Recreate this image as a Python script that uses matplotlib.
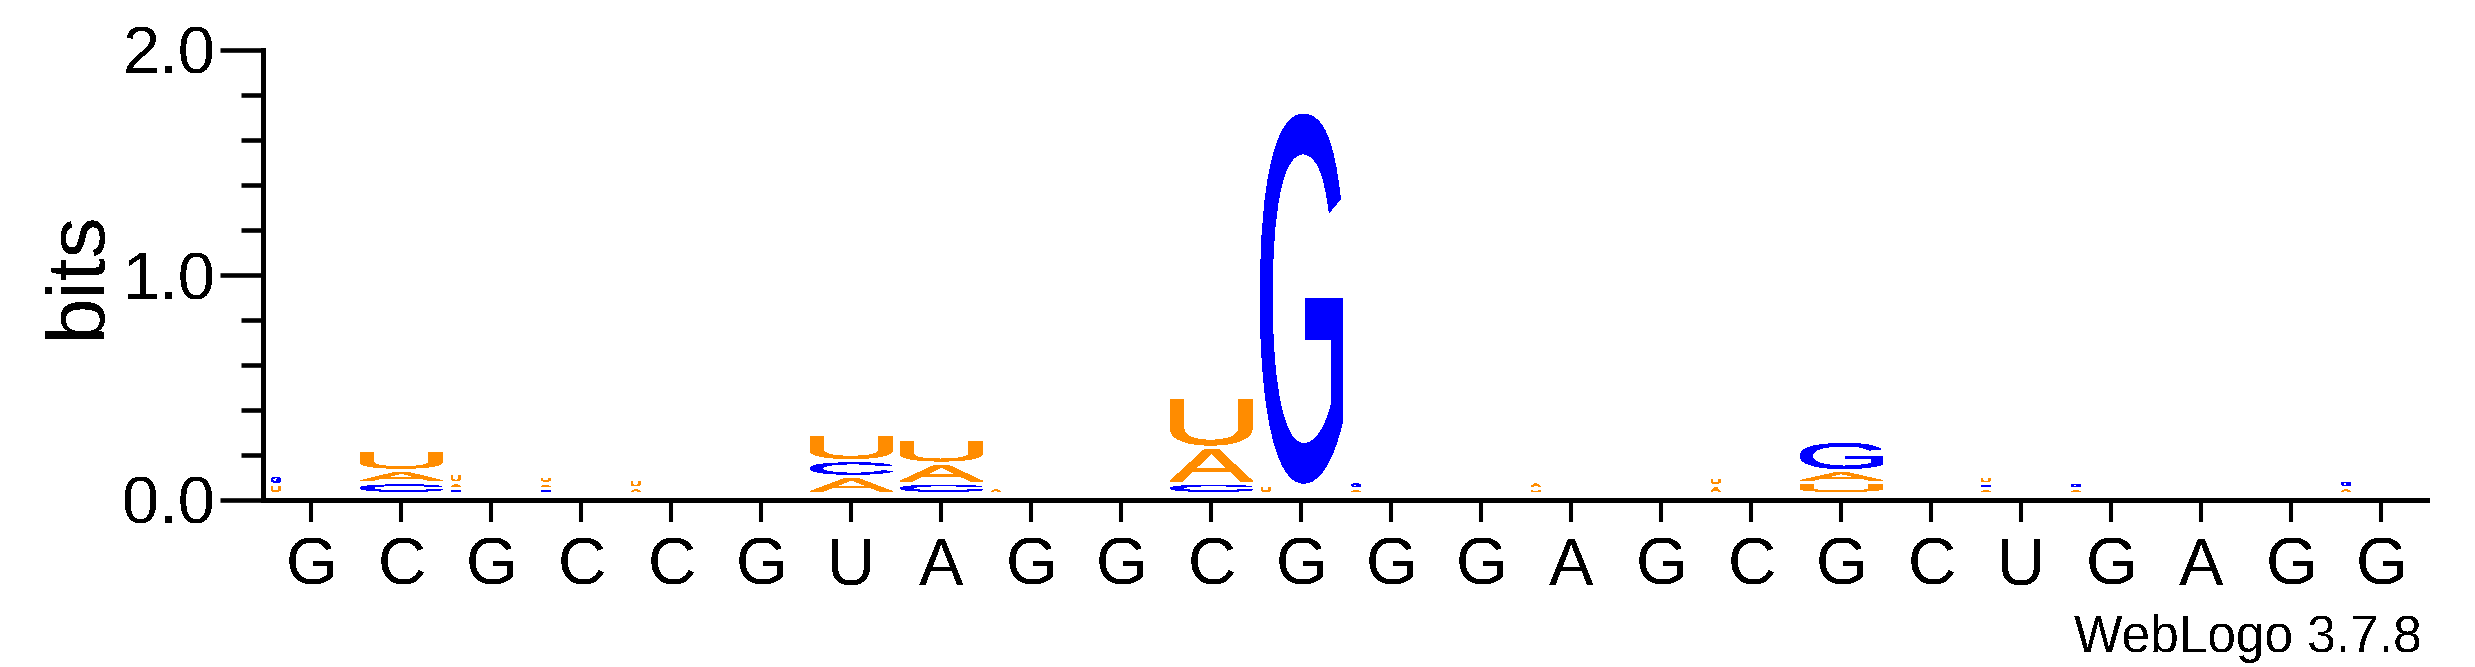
import matplotlib
matplotlib.use('Agg')
import matplotlib.pyplot as plt
from matplotlib.textpath import TextPath
from matplotlib.font_manager import FontProperties
from matplotlib.patches import PathPatch
from matplotlib.transforms import Affine2D
from matplotlib.ticker import MultipleLocator, FixedLocator

plt.rcParams['font.family'] = ['Liberation Sans', 'DejaVu Sans']
plt.rcParams['text.antialiased'] = False

# ---------------- data ----------------
sequence = list("GCGCCGUAGGCGGGAGCGCUGAGG")

# letters of each stack, bottom to top
stack_letters = [
    ['U', 'G'],            # 1
    ['C', 'A', 'U'],       # 2
    ['G', 'A', 'U'],       # 3
    ['C', 'A', 'U'],       # 4
    ['A', 'U'],            # 5
    [],                    # 6
    ['A', 'C', 'U'],       # 7
    ['C', 'A', 'U'],       # 8
    ['A'],                 # 9
    [],                    # 10
    ['C', 'A', 'U'],       # 11
    ['U', 'G'],            # 12
    ['A', 'G'],            # 13
    [],                    # 14
    ['U', 'A'],            # 15
    [],                    # 16
    ['A', 'U'],            # 17
    ['U', 'A', 'G'],       # 18
    [],                    # 19
    ['A', 'C', 'U'],       # 20
    ['A', 'G'],            # 21
    [],                    # 22
    [],                    # 23
    ['A', 'G'],            # 24
]

# height (bits) of each letter, bottom to top
stack_bits = [
    [0.040, 0.041],
    [0.048, 0.055, 0.089],
    [0.022, 0.026, 0.040],
    [0.022, 0.024, 0.028],
    [0.026, 0.036],
    [],
    [0.076, 0.070, 0.116],
    [0.046, 0.089, 0.104],
    [0.026],
    [],
    [0.046, 0.160, 0.222],
    [0.037, 1.658],
    [0.022, 0.030],
    [],
    [0.022, 0.030],
    [],
    [0.036, 0.036],
    [0.049, 0.052, 0.131],
    [],
    [0.022, 0.022, 0.030],
    [0.020, 0.030],
    [],
    [],
    [0.026, 0.034],
]

letter_colors = {'A': '#FF8C00', 'U': '#FF8C00', 'C': '#0000FF', 'G': '#0000FF'}
yticks = [0.0, 1.0, 2.0]
ytick_labels = ['0.0', '1.0', '2.0']

# ---------------- figure ----------------
W, H = 2475, 667
fig = plt.figure(figsize=(W / 100, H / 100), dpi=100)
ax = fig.add_axes([262.5 / W, (H - 500) / H, (2427 - 262.5) / W, 450 / H])
ax.set_xlim(0.458, 24.508)
ax.set_ylim(0, 2)

fp = FontProperties(family='Liberation Sans')
glyphs = {}
for ch in 'ACGU':
    tp = TextPath((0, 0), ch, size=1, prop=fp)
    glyphs[ch] = (tp, tp.get_extents())


def draw_letter(ch, x0, x1, y0, y1, color):
    tp, ext = glyphs[ch]
    tr = (Affine2D().translate(-ext.x0, -ext.y0)
          .scale((x1 - x0) / ext.width, (y1 - y0) / ext.height)
          .translate(x0, y0))
    ax.add_patch(PathPatch(tr.transform_path(tp), facecolor=color,
                           edgecolor='none', lw=0, antialiased=False))


base = 0.02        # stack starts just above the axis line
gap = 0.0178       # blank space below each glyph
half_w = 0.456     # half width of a full stack
tiny_limit = 0.044 # letters smaller than this are drawn narrow
for i, (letters, bits) in enumerate(zip(stack_letters, stack_bits)):
    pos = i + 1
    y = base
    for ch, h in zip(letters, bits):
        ink0 = y + gap
        ink1 = max(y + h, ink0 + 0.004)
        if h < tiny_limit:
            x0 = pos - 0.5 + 0.055
            x1 = x0 + 0.1
        else:
            x0, x1 = pos - half_w, pos + half_w
        draw_letter(ch, x0, x1, ink0, ink1, letter_colors[ch])
        y += h

# ---------------- axes styling ----------------
for s in ['top', 'right']:
    ax.spines[s].set_visible(False)
for s in ['left', 'bottom']:
    ax.spines[s].set_linewidth(3.6)
    ax.spines[s].set_antialiased(False)

ax.yaxis.set_major_locator(FixedLocator(yticks))
ax.set_yticklabels(ytick_labels)
ax.yaxis.set_minor_locator(MultipleLocator(0.2))
ax.set_xticks(range(1, len(sequence) + 1))
ax.set_xticklabels(sequence)

ax.tick_params(axis='y', which='major', direction='out', length=31, width=3.3,
               labelsize=48, pad=3)
ax.tick_params(axis='y', which='minor', direction='out', length=15.8, width=3.3)
ax.tick_params(axis='x', which='major', direction='out', length=15.6, width=2.9,
               labelsize=48, pad=11)
ax.tick_params(axis='x', which='minor', bottom=False)

fig.text(100 / W, 1 - 274.5 / H, 'bits', rotation=90, rotation_mode='anchor',
         ha='center', va='baseline', fontsize=59)
fig.text(2422 / W, 1 - 652 / H, 'WebLogo 3.7.8', ha='right', va='baseline',
         fontsize=37)

fig.savefig('out.png', dpi=100, facecolor='white')
